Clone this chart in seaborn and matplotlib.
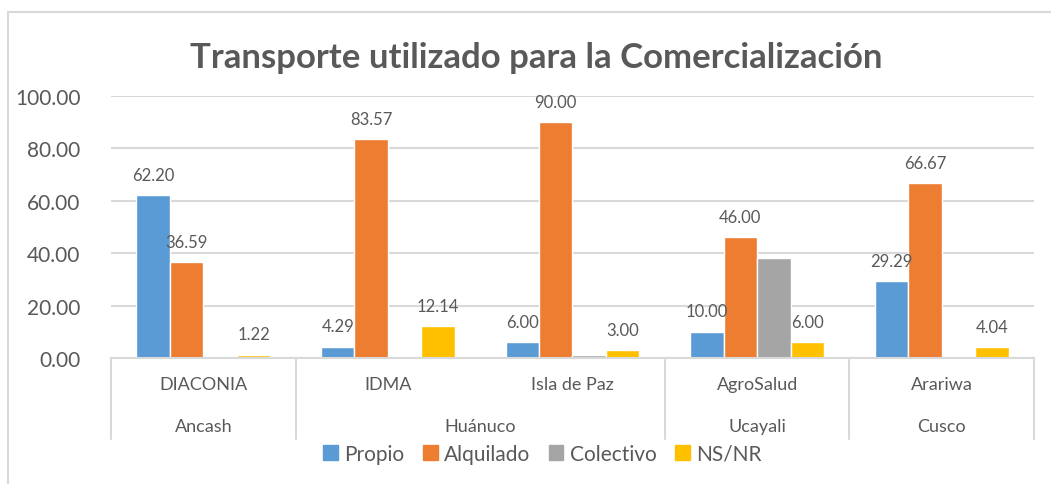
import matplotlib
matplotlib.use("Agg")
import matplotlib.pyplot as plt
import seaborn as sns
import pandas as pd
from matplotlib.patches import Rectangle
from matplotlib.lines import Line2D

# data
organizaciones = ["DIACONIA", "IDMA", "Isla de Paz", "AgroSalud", "Arariwa"]
regiones = ["Ancash", "Huánuco", "Ucayali", "Cusco"]
region_span = [1, 2, 1, 1]  # number of organizations per region
tipos = ["Propio", "Alquilado", "Colectivo", "NS/NR"]
propio = [62.20, 4.29, 6.00, 10.00, 29.29]
alquilado = [36.59, 83.57, 90.00, 46.00, 66.67]
colectivo = [0.00, 0.00, 1.00, 38.00, 0.00]
ns_nr = [1.22, 12.14, 3.00, 6.00, 4.04]
colores = ["#5B9BD5", "#ED7D31", "#A5A5A5", "#FFC000"]

df = pd.DataFrame({
    "org": organizaciones * 4,
    "tipo": [t for t in tipos for _ in organizaciones],
    "valor": propio + alquilado + colectivo + ns_nr,
})

sns.set_style("white")
plt.rcParams["font.family"] = ["Lato", "DejaVu Sans"]
txt = "#595959"
grid_c = "#D9D9D9"

fig = plt.figure(figsize=(10.51, 4.85), dpi=100)
ax = fig.add_axes([0.1056, 0.2598, 0.8782, 0.5402])

sns.barplot(data=df, x="org", y="valor", hue="tipo", hue_order=tipos,
            palette=colores, width=0.725, ax=ax, legend=False,
            saturation=1, errorbar=None)

ax.set_ylim(0, 100)
ax.set_xlim(-0.5, len(organizaciones) - 0.5)
ax.set_yticks(range(0, 101, 20))
ax.set_yticklabels([f"{v:.2f}" for v in range(0, 101, 20)], fontsize=15, color=txt)
ax.tick_params(axis="y", length=0, pad=22)
ax.yaxis.grid(True, color=grid_c, linewidth=1.5)
ax.set_axisbelow(True)
for s in ["top", "right", "left"]:
    ax.spines[s].set_visible(False)
ax.spines["bottom"].set_color(grid_c)
ax.spines["bottom"].set_linewidth(1.5)
ax.set_xticks([])
ax.set_xlabel("")
ax.set_ylabel("")

# data labels (Colectivo has none)
serie = [propio, alquilado, colectivo, ns_nr]
for i, cont in enumerate(ax.containers):
    if tipos[i] == "Colectivo":
        continue
    labs = [f"{v:.2f}" if v > 0 else "" for v in serie[i]]
    ax.bar_label(cont, labels=labs, padding=9, fontsize=12, color=txt)

# two-level category axis
trans = ax.get_xaxis_transform()
bordes = [-0.5]
pos = -0.5
for n in region_span:
    pos += n
    bordes.append(pos)
for b in bordes:
    ax.add_line(Line2D([b, b], [0, -0.31], transform=trans, color=grid_c,
                       linewidth=1.5, clip_on=False))
for i, org in enumerate(organizaciones):
    ax.text(i, -0.10, org, transform=trans, ha="center", va="center",
            fontsize=13, color=txt)
for j, reg in enumerate(regiones):
    centro = (bordes[j] + bordes[j + 1]) / 2
    ax.text(centro, -0.26, reg, transform=trans, ha="center", va="center",
            fontsize=13, color=txt)

fig.text(0.51, 0.88, "Transporte utilizado para la Comercialización",
         ha="center", va="center", fontsize=25, fontweight="bold", color=txt)

handles = [Rectangle((0, 0), 1, 1, color=c) for c in colores]
fig.legend(handles, tipos, loc="center", bbox_to_anchor=(0.516, 0.062), ncol=4,
           frameon=False, fontsize=15, handlelength=0.7, handleheight=0.7,
           handletextpad=0.3, columnspacing=0.9, labelcolor=txt)

# chart border (cropped on right and bottom)
fig.patches.append(Rectangle((8 / 1051, -0.1), 1.2, 1 - 13 / 485 + 0.1,
                             transform=fig.transFigure, fill=False,
                             edgecolor=grid_c, linewidth=1.5))

fig.savefig("out.png", dpi=100)
